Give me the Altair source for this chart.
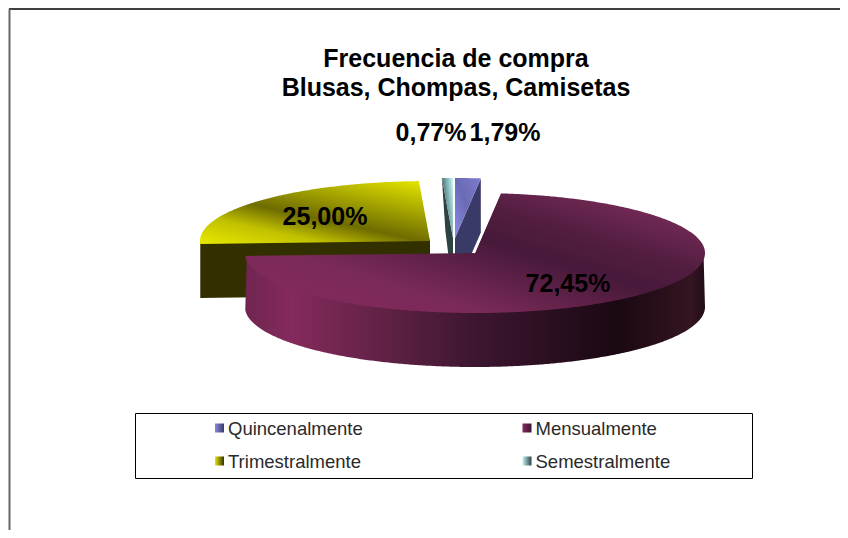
import math
import altair as alt
import pandas as pd

# ---- data ----
categories = ["Quincenalmente", "Mensualmente", "Trimestralmente", "Semestralmente"]
shares = [1.79, 72.45, 25.00, 0.77]
share_labels = ["1,79%", "72,45%", "25,00%", "0,77%"]
title_lines = ["Frecuencia de compra", "Blusas, Chompas, Camisetas"]

# ---- layout / style ----
W, H = 832, 522
FONT = "Liberation Sans"
RX, RY, DEPTH = 230, 60, 54
APEX = {"Quincenalmente": (455, 238), "Mensualmente": (475, 253),
        "Trimestralmente": (430, 241), "Semestralmente": (453, 238)}
LABEL_POS = {"Quincenalmente": (505, 133), "Mensualmente": (568, 284),
             "Trimestralmente": (325, 217), "Semestralmente": (431, 133)}
LEGEND_POS = {"Quincenalmente": (219.5, 428), "Mensualmente": (527, 428),
              "Trimestralmente": (219.5, 461), "Semestralmente": (527, 461)}


def grad(stops, x1=0, y1=0, x2=1, y2=0):
    return alt.Gradient(
        gradient="linear", x1=x1, y1=y1, x2=x2, y2=y2,
        stops=[alt.GradientStop(offset=o, color=c) for o, c in stops],
    )


FACE = {
    "Mensualmente": grad([(0, "#84295c"), (0.28, "#7a2a58"), (0.58, "#47193a"),
                          (0.72, "#521d40"), (1, "#823060")], 0.0, 0.95, 1.0, 0.1),
    "Trimestralmente": grad([(0, "#e8e800"), (0.25, "#c0c000"), (0.45, "#6f6c00"),
                             (0.75, "#b0b000"), (1, "#e8e800")], 0.06, 1.04, 0.93, -0.05),
    "Quincenalmente": grad([(0, "#8c8ce6"), (0.5, "#6a6ab4"), (1, "#7c7cd0")], 0, 1, 1, 0),
    "Semestralmente": grad([(0, "#2c4242"), (0.45, "#6f9c9c"), (1, "#c4f4f4")], 0, 0.6, 1, 0.1),
}
WALL = {
    "Mensualmente": grad([(0, "#702550"), (0.1, "#842a5c"), (0.33, "#5c2042"),
                          (0.5, "#3d1630"), (0.81, "#1a0812"), (0.97, "#341522"), (1, "#220c18")]),
    "Trimestralmente": "#333000",
    "Quincenalmente": "#3a3a68",
    "Semestralmente": "#2d4242",
}
SWATCH = {
    "Quincenalmente": grad([(0, "#8888e0"), (1, "#3a3a68")]),
    "Mensualmente": grad([(0, "#84295c"), (1, "#3d1630")]),
    "Trimestralmente": grad([(0, "#e8e800"), (1, "#333000")]),
    "Semestralmente": grad([(0, "#c4f4f4"), (1, "#2d4242")]),
}
PROJ = dict(type="identity", scale=1, translate=[-8, -8])


def feature(ring):
    ring = [list(p) for p in ring] + [list(ring[0])]
    return {"type": "Feature", "properties": {},
            "geometry": {"type": "Polygon", "coordinates": [ring]}}


def rim(name, a0, a1, inset=0):
    ax, ay = APEX[name]
    n = max(2, int(abs(a1 - a0)) * 2)
    return [(ax + (RX - inset) * math.sin(math.radians(a0 + (a1 - a0) * i / n)),
             ay - (RY - inset) * math.cos(math.radians(a0 + (a1 - a0) * i / n))) for i in range(n + 1)]


def shape(ring, fill):
    return alt.Chart(alt.Data(values=[feature(ring)])).mark_geoshape(
        fill=fill, strokeWidth=0).project(**PROJ)


total = sum(shares)
spans, acc = {}, 0.0
for c, s in zip(categories, shares):
    a = s / total * 360
    spans[c] = (acc, acc + a)
    acc += a

layers = []

# frame of the chart area
frame = pd.DataFrame({"a": [0]})
layers.append(alt.Chart(frame).mark_rule(color="#000000", strokeWidth=1.5).encode(
    x=alt.value(1), x2=alt.value(W), y=alt.value(1)))
layers.append(alt.Chart(frame).mark_rule(color="#666666", strokeWidth=2).encode(
    x=alt.value(1.5), y=alt.value(1), y2=alt.value(H)))

# back slices first, Mensualmente last because it sits in front
for name in ["Trimestralmente", "Semestralmente", "Quincenalmente"]:
    a0, a1 = spans[name]
    ax, ay = APEX[name]
    r = rim(name, a0, a1)
    if name == "Trimestralmente":
        edge = [(r[0][0], r[0][1] - 1.5), (ax, ay - 1.5)]
        wall = edge + [(ax, ay + DEPTH), (r[0][0], r[0][1] + DEPTH)]
    elif name == "Quincenalmente":
        edge = [(ax, ay), r[-1]]
        wall = edge + [(r[-1][0], r[-1][1] + DEPTH), (ax, ay + DEPTH)]
    else:
        edge = [r[0], (ax, ay)]
        wall = edge + [(ax, ay + DEPTH), (r[0][0] + 3.6, r[0][1] + DEPTH)]
    layers.append(shape(wall, WALL[name]))
    layers.append(shape([(ax, ay)] + r, FACE[name]))

# Mensualmente
name = "Mensualmente"
a0, a1 = spans[name]
ax, ay = APEX[name]
front = rim(name, 90, a1)
upper = rim(name, 90, a1, inset=1.5)
wall = upper + [(x, y + DEPTH) for x, y in reversed(front)]
layers.append(shape(wall, WALL[name]))
r = rim(name, a0, a1)
layers.append(shape([(ax, ay)] + r, FACE[name]))
# white gap along the radial edge that faces the small slices
gap = rim(name, a0, a0)[0]
layers.append(alt.Chart(alt.Data(values=[{
    "type": "Feature", "properties": {},
    "geometry": {"type": "LineString", "coordinates": [[gap[0] - 1.2, gap[1]], [ax - 1.2, ay]]}}])
).mark_geoshape(filled=False, stroke="#ffffff", strokeWidth=2).project(**PROJ))

# texts
for i, line in enumerate(title_lines):
    layers.append(alt.Chart(pd.DataFrame({"t": [line]})).mark_text(
        font=FONT, fontSize=25, fontWeight="bold", color="#000000", align="center", baseline="middle"
    ).encode(text="t:N", x=alt.value(456 - 8), y=alt.value(59 + 28.5 * i - 8)))

for c, lab in zip(categories, share_labels):
    lx, ly = LABEL_POS[c]
    layers.append(alt.Chart(pd.DataFrame({"t": [lab]})).mark_text(
        font=FONT, fontSize=25, fontWeight="bold", color="#000000", align="center", baseline="middle"
    ).encode(text="t:N", x=alt.value(lx - 8), y=alt.value(ly - 8)))

# legend
layers.append(alt.Chart(frame).mark_rect(fill="#ffffff", stroke="#000000", strokeWidth=1).encode(
    x=alt.value(135.5 - 8), x2=alt.value(752.5 - 8), y=alt.value(413.5 - 8), y2=alt.value(478.5 - 8)))
for c in categories:
    sx, sy = LEGEND_POS[c]
    layers.append(alt.Chart(pd.DataFrame({"t": [c]})).mark_square(
        size=81, fill=SWATCH[c], opacity=1
    ).encode(x=alt.value(sx - 8), y=alt.value(sy - 8)))
    layers.append(alt.Chart(pd.DataFrame({"t": [c]})).mark_text(
        font=FONT, fontSize=18.5, color="#2a2a2a", align="left", baseline="middle"
    ).encode(text="t:N", x=alt.value(sx + 8.5 - 8), y=alt.value(sy + 1 - 8)))

chart = alt.layer(*layers).properties(
    width=W, height=H, padding=0, autosize=alt.AutoSizeParams(type="none"),
    background="#ffffff",
).configure_view(stroke=None)

chart.save("out.html", embed_options={"renderer": "svg", "actions": False})
